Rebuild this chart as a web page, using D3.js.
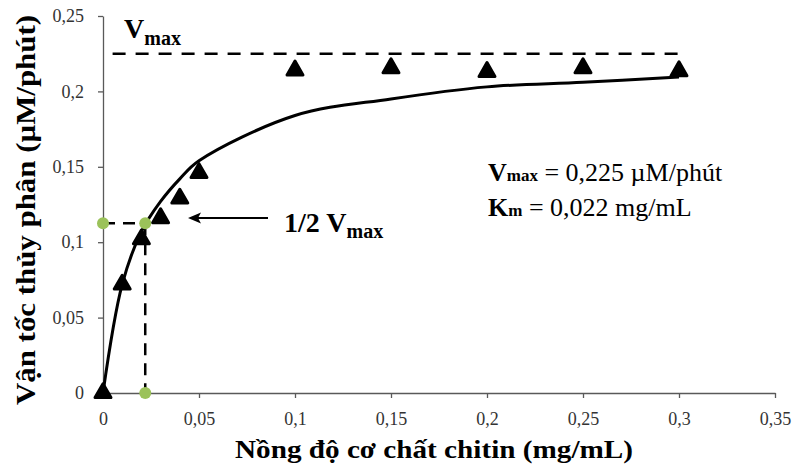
<!DOCTYPE html>
<html lang="vi">
<head>
    <meta charset="UTF-8">
    <title>Vận tốc thủy phân chitin</title>
    <script src="https://d3js.org/d3.v7.min.js"></script>
    <style>
        body { margin: 0; background: #fff; }
        svg text { font-family: "Liberation Serif", "DejaVu Serif", "Times New Roman", serif; }
        .tick text { font-size: 18px; fill: #333; }
        .axis path, .axis line { stroke: #595959; stroke-width: 1.3; }
    </style>
</head>
<body>
    <svg id="chart" width="794" height="472"></svg>

    <script>
        // Data
        const concentration = [0, 0.01, 0.02, 0.03, 0.04, 0.05, 0.1, 0.15, 0.2, 0.25, 0.3];
        const velocity = [0, 0.072, 0.102, 0.116, 0.129, 0.146, 0.214, 0.2155, 0.213, 0.2155, 0.2135];
        const fitted = [0, 0.072, 0.107, 0.127, 0.142, 0.154, 0.184, 0.195, 0.203, 0.206, 0.2095];
        const vmax = 0.225;
        const km = 0.022;
        const xTicks = [0, 0.05, 0.1, 0.15, 0.2, 0.25, 0.3, 0.35];
        const yTicks = [0, 0.05, 0.1, 0.15, 0.2, 0.25];

        const svg = d3.select("#chart");
        const margin = { top: 16, right: 19, bottom: 79, left: 103 };
        const width = 794 - margin.left - margin.right,
              height = 472 - margin.top - margin.bottom;

        const x = d3.scaleLinear().domain([0, 0.35]).range([0, width]);
        const y = d3.scaleLinear().domain([0, 0.25]).range([height, 0]);
        const fmt = d => String(d).replace(".", ",");

        const g = svg.append("g")
            .attr("transform", "translate(" + margin.left + "," + margin.top + ")");

        // axes
        g.append("g")
            .attr("class", "axis")
            .attr("transform", "translate(0," + height + ")")
            .call(d3.axisBottom(x).tickValues(xTicks).tickFormat(fmt).tickSizeInner(5).tickSizeOuter(0).tickPadding(14))
            .attr("font-family", null);

        g.append("g")
            .attr("class", "axis")
            .call(d3.axisLeft(y).tickValues(yTicks).tickFormat(fmt).tickSizeInner(5).tickSizeOuter(0).tickPadding(14))
            .attr("font-family", null);

        // fitted curve
        const pts = concentration.map((c, i) => [c, fitted[i]]);
        g.append("path")
            .datum(pts)
            .attr("fill", "none")
            .attr("stroke", "#000")
            .attr("stroke-width", 3)
            .attr("d", d3.line().x(d => x(d[0])).y(d => y(d[1])).curve(d3.curveCatmullRom));

        // measured points
        g.selectAll(".pt")
            .data(concentration.map((c, i) => [c, velocity[i]]))
            .enter().append("path")
            .attr("class", "pt")
            .attr("transform", d => "translate(" + x(d[0]) + "," + y(d[1]) + ")")
            .attr("d", d3.symbol().type(d3.symbolTriangle).size(110))
            .attr("fill", "#000")
            .attr("stroke", "#000")
            .attr("stroke-width", 3)
            .attr("stroke-linejoin", "round");

        // Vmax line
        g.append("line")
            .attr("x1", x(0.005)).attr("x2", x(0.3))
            .attr("y1", y(vmax)).attr("y2", y(vmax))
            .attr("stroke", "#000").attr("stroke-width", 2.5)
            .attr("stroke-dasharray", "13,10");

        // 1/2 Vmax guides
        g.append("line")
            .attr("x1", x(0)).attr("x2", x(km))
            .attr("y1", y(vmax / 2)).attr("y2", y(vmax / 2))
            .attr("stroke", "#000").attr("stroke-width", 2.5)
            .attr("stroke-dasharray", "12,8");
        g.append("line")
            .attr("x1", x(km)).attr("x2", x(km))
            .attr("y1", y(vmax / 2)).attr("y2", y(0))
            .attr("stroke", "#000").attr("stroke-width", 2.5)
            .attr("stroke-dasharray", "12,8");

        g.selectAll(".gdot")
            .data([[0, vmax / 2], [km, vmax / 2], [km, 0]])
            .enter().append("circle")
            .attr("class", "gdot")
            .attr("cx", d => x(d[0]))
            .attr("cy", d => y(d[1]))
            .attr("r", 6)
            .attr("fill", "#9bc25a");

        // arrow pointing at the 1/2 Vmax point
        svg.append("line")
            .attr("x1", 268).attr("x2", 196)
            .attr("y1", 218).attr("y2", 218)
            .attr("stroke", "#000").attr("stroke-width", 2);
        svg.append("path")
            .attr("d", "M188,218 L201,212.5 L198,218 L201,223.5 Z")
            .attr("fill", "#000");

        // labels
        const half = svg.append("text")
            .attr("x", 284).attr("y", 232)
            .attr("font-weight", "bold").attr("font-size", 28);
        half.append("tspan").text("1/2 V");
        half.append("tspan").attr("font-size", 20).attr("dy", 6).text("max");

        const vlab = svg.append("text")
            .attr("x", 124).attr("y", 38)
            .attr("font-weight", "bold").attr("font-size", 28);
        vlab.append("tspan").text("V");
        vlab.append("tspan").attr("font-size", 20).attr("dy", 7).text("max");

        const t1 = svg.append("text").attr("x", 488).attr("y", 181).attr("font-size", 26);
        t1.append("tspan").attr("font-weight", "bold").text("V");
        t1.append("tspan").attr("font-weight", "bold").attr("font-size", 17).text("max");
        t1.append("tspan").text(" = 0,225 µM/phút");

        const t2 = svg.append("text").attr("x", 488).attr("y", 216).attr("font-size", 26);
        t2.append("tspan").attr("font-weight", "bold").text("K");
        t2.append("tspan").attr("font-weight", "bold").attr("font-size", 17).text("m");
        t2.append("tspan").text(" = 0,022 mg/mL");

        // axis titles
        svg.append("text")
            .attr("x", 434).attr("y", 458)
            .attr("text-anchor", "middle")
            .attr("font-weight", "bold").attr("font-size", 25)
            .attr("textLength", 398).attr("lengthAdjust", "spacingAndGlyphs")
            .text("Nồng độ cơ chất chitin (mg/mL)");

        svg.append("text")
            .attr("transform", "translate(35,210) rotate(-90)")
            .attr("text-anchor", "middle")
            .attr("font-weight", "bold").attr("font-size", 28)
            .attr("textLength", 390).attr("lengthAdjust", "spacingAndGlyphs")
            .text("Vận tốc thủy phân (µM/phút)");
    </script>
</body>
</html>
